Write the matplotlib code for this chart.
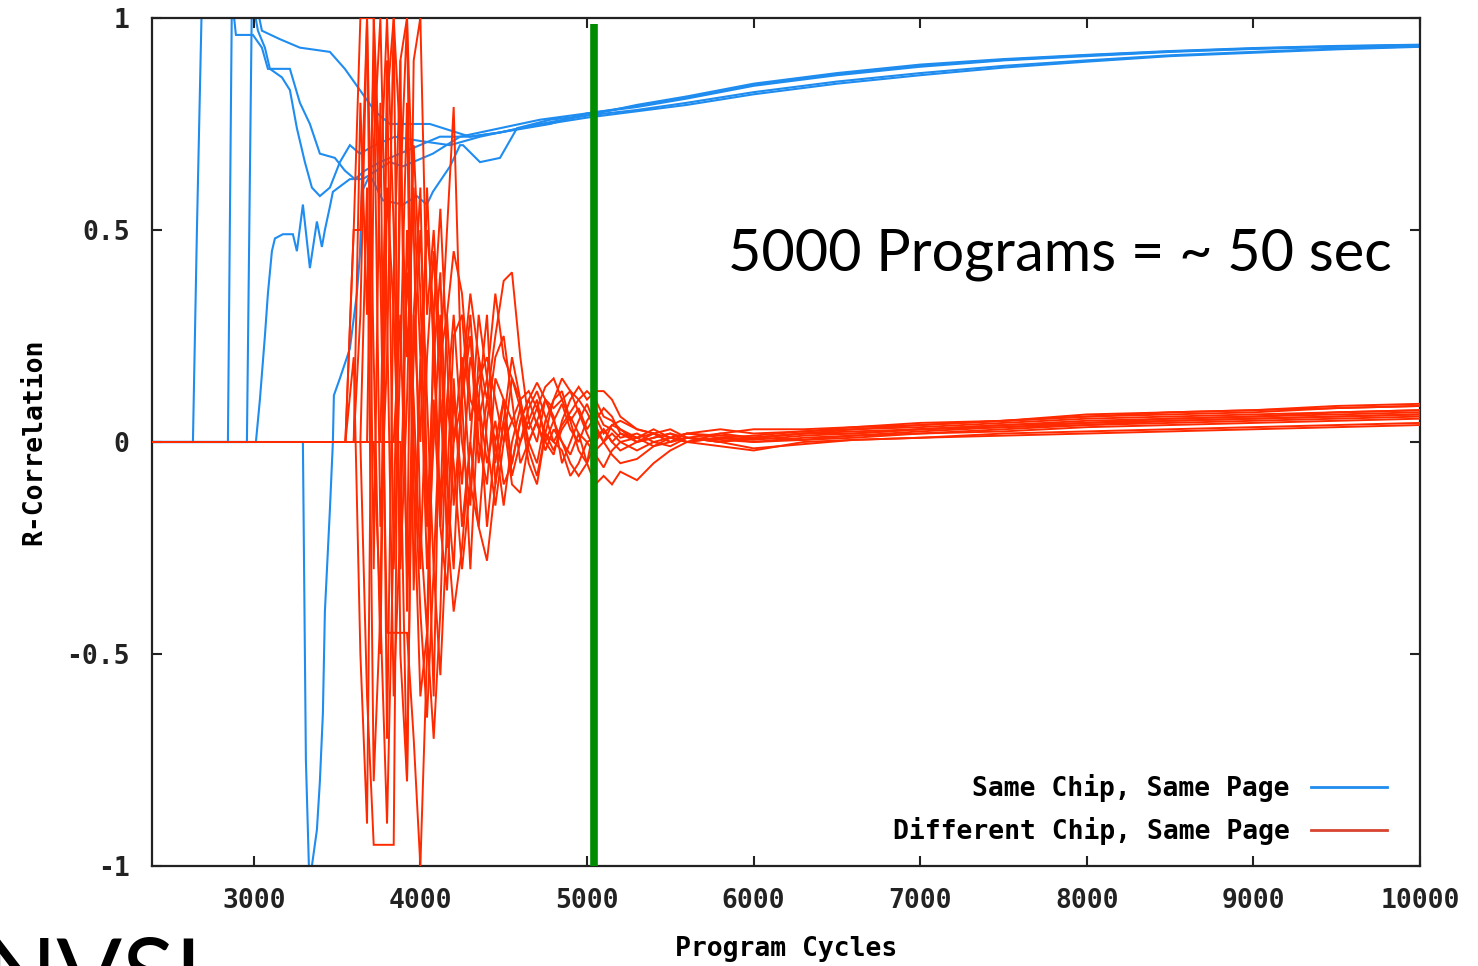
import matplotlib
matplotlib.use("Agg")
import matplotlib.pyplot as plt
from matplotlib.lines import Line2D

# ---------------- data ----------------
x_ticks = [3000, 4000, 5000, 6000, 7000, 8000, 9000, 10000]
y_ticks = [-1, -0.5, 0, 0.5, 1]
y_ticklabels = ["-1", "-0.5", "0", "0.5", "1"]

blue_right_x = [5300, 5600, 6000, 6500, 7000, 7500, 8000, 8500, 9000, 9500, 10000]

b1_x = [2389, 2635, 2659, 2689, 3007, 3049, 3157, 3277, 3457, 3547, 3637, 3727, 3817, 4057, 4298, 4478, 4718, 5000]
b1_y = [0, 0, 0.5, 1.05, 1.05, 0.97, 0.95, 0.93, 0.92, 0.88, 0.83, 0.78, 0.75, 0.75, 0.72, 0.73, 0.75, 0.77]
b1_right = [0.795, 0.815, 0.845, 0.87, 0.89, 0.903, 0.913, 0.922, 0.929, 0.934, 0.937]

b2_x = [2389, 2845, 2869, 2893, 2995, 3049, 3085, 3217, 3247, 3277, 3337, 3397, 3487, 3547, 3607, 3667, 3757, 3877, 3997, 4117, 4298, 4478, 4778, 5000]
b2_y = [0, 0, 1.05, 0.96, 0.96, 0.93, 0.88, 0.88, 0.84, 0.80, 0.75, 0.68, 0.67, 0.64, 0.62, 0.64, 0.66, 0.68, 0.70, 0.72, 0.72, 0.73, 0.75, 0.775]
b2_right = [0.79, 0.81, 0.84, 0.865, 0.885, 0.9, 0.91, 0.92, 0.927, 0.932, 0.936]

b3_x = [2389, 2959, 2989, 3025, 3067, 3097, 3169, 3217, 3259, 3307, 3349, 3397, 3457, 3517, 3577, 3637, 3727, 3847, 3997, 4178, 4358, 4598, 5000]
b3_y = [0, 0, 1.05, 0.97, 0.93, 0.88, 0.86, 0.83, 0.74, 0.66, 0.60, 0.58, 0.60, 0.66, 0.70, 0.68, 0.70, 0.72, 0.71, 0.70, 0.72, 0.74, 0.765]
b3_right = [0.78, 0.795, 0.82, 0.845, 0.865, 0.883, 0.897, 0.91, 0.918, 0.926, 0.932]

b4_x = [2389, 3013, 3037, 3067, 3085, 3109, 3127, 3175, 3235, 3259, 3295, 3337, 3379, 3409, 3427, 3457, 3475, 3577, 3655, 3817, 3895, 4075, 4238, 4478, 4718, 5000]
b4_y = [0, 0, 0.1, 0.25, 0.35, 0.45, 0.48, 0.49, 0.49, 0.45, 0.56, 0.41, 0.52, 0.46, 0.50, 0.555, 0.59, 0.62, 0.62, 0.66, 0.65, 0.68, 0.72, 0.74, 0.76, 0.775]
b4_right = [0.792, 0.812, 0.842, 0.868, 0.888, 0.901, 0.912, 0.921, 0.928, 0.933, 0.936]

b5_x = [2389, 3295, 3301, 3313, 3331, 3349, 3379, 3397, 3415, 3427, 3457, 3475, 3481, 3517, 3577, 3619, 3637, 3649, 3697, 3775, 3895, 3979, 4039, 4075, 4178, 4238, 4256, 4358, 4478, 4580, 4778, 5000]
b5_y = [0, 0, -0.25, -0.75, -1.0, -1.0, -0.915, -0.80, -0.64, -0.40, -0.16, 0.0, 0.11, 0.15, 0.22, 0.35, 0.44, 0.59, 0.63, 0.57, 0.56, 0.58, 0.56, 0.59, 0.65, 0.70, 0.70, 0.66, 0.67, 0.74, 0.76, 0.77]
b5_right = [0.783, 0.8, 0.825, 0.85, 0.87, 0.887, 0.9, 0.912, 0.92, 0.928, 0.933]

red_x = [2390, 3550, 3600, 3640, 3680, 3720, 3760, 3800, 3840, 3880,
         3920, 3960, 4000, 4040, 4080, 4120, 4160, 4200, 4250, 4300,
         4350, 4400, 4450, 4500, 4550, 4600, 4650, 4700, 4750, 4800,
         4850, 4900, 4950, 5000, 5050, 5100, 5150, 5200, 5300, 5400,
         5500, 5600, 5800, 6000, 6300, 6600, 7000, 7500, 8000, 8500,
         9000, 9500, 10000]

r1 = [0, 0, 0.50, 1.00, 1.00, 0.20, -0.50, 0.60, 0.30, -0.20, 0.40, 0.10, -0.30, 0.20, 0.45, 0.10, -0.10, 0.25, 0.30, 0.05, 0.15, 0.20, 0.10, 0.00, 0.05, 0.10, 0.12, 0.08, 0.02, -0.02, 0.03, 0.06, 0.02, 0.00, 0.01, 0.03, 0.00, 0.02, 0.01, 0.02, 0.00, 0.01, 0.00, 0.01, 0.02, 0.03, 0.035, 0.045, 0.055, 0.06, 0.065, 0.07, 0.075]
r2 = [0, 0, 0, 0, -0.6, -0.95, -0.95, -0.95, -0.95, 0.9, 1.0, 0.5, -0.2, -0.45, 0.3, 0.55, 0.2, -0.15, 0.1, 0.3, 0.0, -0.1, 0.15, 0.1, -0.05, 0.05, 0.1, 0.14, 0.1, 0.05, 0.0, -0.05, -0.08, -0.05, 0.05, 0.08, 0.06, 0.02, 0.0, 0.01, 0.02, 0.0, 0.01, 0.0, 0.005, 0.015, 0.02, 0.03, 0.04, 0.045, 0.05, 0.055, 0.06]
r3 = [0, 0, 0, 0.3, 1.0, 1.0, 0.4, -0.45, -0.45, -0.45, -0.45, -0.7, -1.0, -0.5, 0.1, -0.2, -0.35, 0.0, 0.2, -0.1, -0.2, 0.05, 0.2, 0.25, 0.1, -0.05, 0.0, 0.05, 0.1, 0.08, 0.1, 0.12, 0.07, 0.02, -0.02, 0.0, 0.04, 0.03, 0.01, -0.01, 0.01, 0.02, 0.01, 0.015, 0.025, 0.03, 0.04, 0.05, 0.06, 0.07, 0.075, 0.085, 0.09]
r4 = [0, 0, 0, 0, 0, 0, 0, 0, 0, 0, -0.8, 0.3, 0.6, -0.1, -0.6, 0.2, 0.5, 0.79, 0.1, -0.3, 0.1, 0.3, -0.1, 0.05, 0.2, 0.1, 0.0, -0.05, 0.05, 0.1, 0.12, 0.05, -0.02, -0.05, 0.0, 0.03, 0.0, -0.02, 0.0, 0.02, 0.0, 0.01, 0.005, 0.0, 0.01, 0.015, 0.025, 0.035, 0.04, 0.05, 0.055, 0.06, 0.065]
r5 = [0, 0, 0, 0, 0, 0, 0, 0.8, 1.0, 0.7, 0.2, 0.6, 0.2, 0.5, 0.3, -0.2, 0.1, 0.3, 0.0, -0.15, 0.2, 0.1, 0.25, 0.38, 0.4, 0.2, 0.05, 0.1, 0.0, -0.03, 0.05, 0.1, 0.13, 0.1, 0.12, 0.12, 0.1, 0.06, 0.03, 0.02, 0.01, 0.02, 0.03, 0.02, 0.025, 0.035, 0.045, 0.05, 0.06, 0.065, 0.07, 0.08, 0.085]
r6 = [0, 0, 0.2, -0.5, -0.9, 0.7, 1.0, 0.3, -0.6, -0.2, 0.5, 0.0, -0.4, -0.65, -0.3, 0.1, -0.2, -0.4, -0.25, 0.0, -0.2, -0.28, -0.1, 0.05, -0.1, -0.12, 0.0, 0.05, -0.02, 0.03, 0.0, -0.03, 0.02, -0.05, -0.1, -0.08, -0.1, -0.07, -0.09, -0.05, -0.02, 0.0, -0.01, -0.02, 0.0, 0.005, 0.01, 0.015, 0.02, 0.025, 0.03, 0.035, 0.04]
r7 = [0, 0, 0.5, 0.5, 1.0, -0.3, 0.8, -0.7, 0.4, 0.9, -0.4, 0.2, 0.5, 0.1, -0.3, -0.55, -0.2, 0.1, -0.1, 0.2, 0.1, -0.05, 0.05, -0.1, -0.05, 0.05, 0.1, 0.04, 0.0, 0.05, 0.09, 0.03, 0.0, 0.05, 0.08, 0.04, 0.03, 0.01, 0.02, 0.0, 0.01, 0.0, 0.02, 0.01, 0.02, 0.025, 0.03, 0.04, 0.05, 0.055, 0.06, 0.065, 0.07]
r8 = [0, 0, 0, 0, 0, 1.0, 0.6, 1.0, 0.5, -0.3, 0.1, 0.7, 0.35, -0.2, 0.2, 0.4, -0.1, -0.3, 0.15, 0.35, 0.2, 0.0, -0.15, 0.0, 0.15, 0.1, -0.02, -0.08, 0.02, 0.1, 0.15, 0.12, 0.1, 0.07, 0.03, 0.0, 0.02, 0.0, 0.01, 0.03, 0.01, 0.0, 0.01, 0.005, 0.015, 0.02, 0.03, 0.04, 0.045, 0.055, 0.06, 0.07, 0.075]
r9 = [0, 0, 0, 0, 0, 0, -0.4, -0.9, -0.2, 0.6, 1.0, -0.1, -0.6, -0.45, -0.7, -0.4, 0.1, -0.05, -0.3, -0.1, 0.1, -0.2, 0.0, -0.15, 0.0, 0.08, -0.05, -0.1, 0.02, 0.0, -0.02, -0.08, -0.05, 0.0, -0.03, -0.06, -0.02, 0.0, -0.02, 0.0, -0.01, 0.01, 0.0, -0.015, -0.005, 0.005, 0.01, 0.02, 0.025, 0.03, 0.035, 0.04, 0.045]
r10 = [0, 0, 0, 0, 0, 0, 0, 0, 0, 0.3, -0.3, 0.9, 1.0, 0.3, 0.5, 0.2, 0.3, 0.45, 0.35, 0.1, 0.05, 0.15, 0.35, 0.2, 0.15, 0.08, 0.03, 0.08, 0.13, 0.15, 0.1, 0.05, 0.08, 0.03, 0.06, 0.02, 0.04, 0.05, 0.03, 0.02, 0.03, 0.01, 0.02, 0.03, 0.03, 0.035, 0.04, 0.05, 0.065, 0.07, 0.075, 0.08, 0.085]
r11 = [0, 0, 0, 0.8, 0.3, 0.9, -0.2, 0.2, 1.0, -0.5, -0.8, 0.3, 0.0, 0.6, 0.2, -0.15, 0.3, 0.0, 0.1, 0.25, -0.05, 0.1, 0.0, 0.1, 0.05, 0.0, 0.08, 0.12, 0.06, 0.0, 0.04, 0.07, 0.1, 0.12, 0.1, 0.06, 0.05, 0.03, 0.0, 0.01, 0.02, 0.01, 0.0, 0.01, 0.02, 0.02, 0.03, 0.035, 0.045, 0.05, 0.055, 0.06, 0.065]
r12 = [0, 0, 0, 0, 0.6, -0.8, -0.4, 0.9, -0.3, 0.2, 0.8, -0.35, 0.2, -0.3, 0.0, 0.3, -0.25, 0.15, -0.2, 0.0, 0.3, 0.15, -0.05, 0.1, -0.08, 0.0, 0.05, 0.0, 0.1, 0.06, -0.05, 0.0, 0.05, 0.09, 0.04, 0.0, -0.03, -0.05, -0.04, -0.01, 0.0, 0.02, 0.015, 0.01, 0.005, 0.01, 0.02, 0.025, 0.035, 0.04, 0.045, 0.05, 0.055]

marker_x = 5040
label_blue = "Same Chip, Same Page"
label_red = "Different Chip, Same Page"
annotation = "5000 Programs = ~ 50 sec"

# ---------------- style ----------------
BLUE = "#1f8cf0"
RED = "#ff2a00"
RED_LEG = "#d84430"
GREEN = "#008c00"
MONO = {"family": "DejaVu Sans Mono", "weight": "bold", "size": 19}

fig = plt.figure(figsize=(14.78, 9.66), dpi=100)
ax = fig.add_axes([0.1028, 0.1035, 0.8580, 0.8779])

blue_series = [(b1_x, b1_y, b1_right), (b2_x, b2_y, b2_right), (b3_x, b3_y, b3_right),
               (b4_x, b4_y, b4_right), (b5_x, b5_y, b5_right)]
for bx, by, br in blue_series:
    ax.plot(bx + blue_right_x, by + br, color=BLUE, lw=1.5, zorder=2,
            solid_joinstyle="miter")

for ry in [r1, r2, r3, r4, r5, r6, r7, r8, r9, r10, r11, r12]:
    assert len(ry) == len(red_x)
    ax.plot(red_x, ry, color=RED, lw=1.4, zorder=3, solid_joinstyle="miter")

ax.plot([marker_x, marker_x], [-1, 0.985], color=GREEN, lw=5.5, zorder=4,
        solid_capstyle="butt")

ax.set_xlim(2389, 10000)
ax.set_ylim(-1, 1)
ax.set_xticks(x_ticks)
ax.set_xticklabels([str(v) for v in x_ticks], fontdict=MONO)
ax.set_yticks(y_ticks)
ax.set_yticklabels(y_ticklabels, fontdict=MONO)
ax.tick_params(direction="in", length=7, width=1.5, top=True, right=True,
               colors="#222222")
ax.tick_params(axis="x", pad=16)
ax.tick_params(axis="y", pad=16)
for s in ax.spines.values():
    s.set_linewidth(1.6)
    s.set_color("#222222")

ax.set_xlabel("Program Cycles", fontdict=MONO, labelpad=16)
ax.set_ylabel("R-Correlation", fontdict=MONO, labelpad=14)

ax.text(5846, 0.405, annotation, fontsize=41.5, family="Lato", color="black",
        ha="left", va="baseline")

handles = [Line2D([], [], color=BLUE, lw=2), Line2D([], [], color=RED_LEG, lw=2)]
ax.legend(handles, [label_blue, label_red], loc="lower right",
          bbox_to_anchor=(0.974, 0.025), frameon=False, markerfirst=False,
          prop={"family": "DejaVu Sans Mono", "weight": "bold", "size": 19},
          handlelength=2.9, handletextpad=0.8, labelspacing=0.55,
          borderpad=0, borderaxespad=0)

fig.text(-0.012, 0.031, "NVSL", fontsize=70, family="Lato",
         color="black", ha="left", va="top")

fig.savefig("out.png", dpi=100)
